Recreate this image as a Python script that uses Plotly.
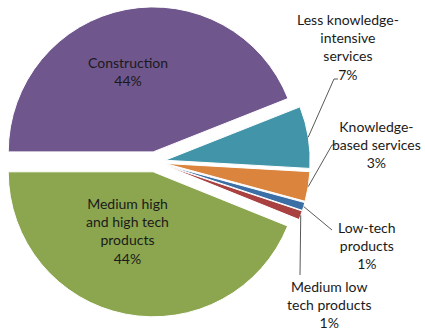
import math
import plotly.graph_objects as go

# %%
labels = ["Construction",
          "Less knowledge-intensive services",
          "Knowledge-based services",
          "Low-tech products",
          "Medium low tech products",
          "Medium high and high tech products"]
label_text = ["Construction",
              "Less knowledge-<br>intensive<br>services",
              "Knowledge-<br>based services",
              "Low-tech<br>products",
              "Medium low<br>tech products",
              "Medium high<br>and high tech<br>products"]
values = [44.0, 6.9, 3.3, 0.9, 1.0, 43.9]
colors = ["#6F568C", "#4295A9", "#DA843D", "#3B6FA5", "#A8413F", "#8BA64F"]

W, H = 425, 332
pull = 0.07
dom_x = [0.0, 0.73]
dom_y = [0.04, 0.985]

# label centres (px) and leader line elbows (px), None = no leader
label_pos = [(128, 71), (348, 47), (376, 144), (367, 245), (329, 304), (128, 231)]
elbows = [None, [(334, 79), (338, 79)], [(332, 145), (336, 145)],
          [(332, 230)], [(300, 275)], None]

# %%
fig = go.Figure(go.Pie(
    labels=labels, values=values, sort=False, direction="clockwise",
    rotation=-90, pull=pull, textinfo="none", hoverinfo="label+percent",
    marker=dict(colors=colors, line=dict(color="white", width=1)),
    domain=dict(x=dom_x, y=dom_y), showlegend=False,
))

# pie geometry, same way plotly sizes it
bw = W * (dom_x[1] - dom_x[0])
bh = H * (dom_y[1] - dom_y[0])
r = min(bw, bh) / (2 + 2 * pull)
cx = W * (dom_x[0] + dom_x[1]) / 2
cy = H * (1 - dom_y[0]) - bh / 2

total = sum(values)
cum = 0
font = dict(family="Lato, Noto Sans, sans-serif", size=14, color="#1a1a1a")
for i, v in enumerate(values):
    pct = round(v / total * 100)
    mid = -90 + (cum + v / 2) / total * 360  # clockwise from 12 o'clock
    cum += v
    lx, ly = label_pos[i]
    fig.add_annotation(x=lx / W, y=1 - ly / H, xref="paper", yref="paper",
                       text=f"{label_text[i]}<br>{pct}%", showarrow=False,
                       xanchor="center", yanchor="middle", align="center",
                       font=font)
    if elbows[i]:
        a = math.radians(mid)
        px = cx + r * (1 + pull) * math.sin(a)
        py = cy - r * (1 + pull) * math.cos(a)
        pts = [(px, py)] + elbows[i]
        for (x0, y0), (x1, y1) in zip(pts[:-1], pts[1:]):
            fig.add_shape(type="line", xref="paper", yref="paper",
                          x0=x0 / W, y0=1 - y0 / H, x1=x1 / W, y1=1 - y1 / H,
                          line=dict(color="#595959", width=1))

fig.update_layout(width=W, height=H, margin=dict(l=0, r=0, t=0, b=0),
                  paper_bgcolor="white", plot_bgcolor="white")

# page body has a default 8px margin; drop it so the figure fills the window
fig.write_html("out.html", config={"displayModeBar": False},
               post_script="document.body.style.margin='0';"
                           "document.body.style.overflow='hidden';")
